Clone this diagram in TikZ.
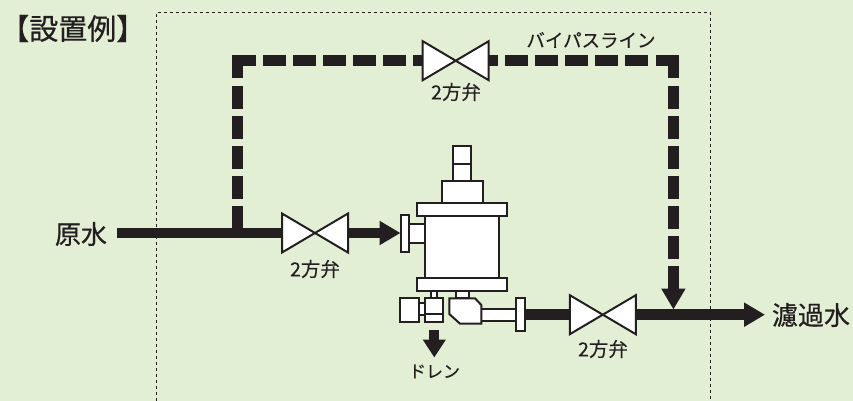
\documentclass[tikz,border=0pt]{standalone}
\usepackage{fontspec}
\usepackage{xcolor}
\usetikzlibrary{arrows.meta, calc}
\setmainfont{Noto Sans CJK JP}
\newfontfamily\heavyfont[FakeBold=0.6]{Noto Sans CJK JP}
\newfontfamily\midfont[FakeBold=0.2]{Noto Sans CJK JP}
\definecolor{ink}{HTML}{231F20}
\definecolor{bgreen}{HTML}{E2EFD5}

\tikzset{
    pipe/.style={ink, line width=10.5pt},
    bypass/.style={ink, line width=11pt, dash pattern=on 22.6pt off 7.4pt},
    part/.style={draw=ink, fill=white, line width=2pt, line join=miter},
    flow/.style={pipe, -{Triangle[length=21pt,width=23pt]}},
    small/.style={ink, inner sep=0pt, font=\midfont\fontsize{19.5}{20}\selectfont},
    big/.style={ink, inner sep=0pt, font=\heavyfont\fontsize{26}{26}\selectfont},
    valve/.pic={
        \draw[part] (-33,-19.5) -- (33,19.5) -- (33,-19.5) -- (-33,19.5) -- cycle;
        \coordinate (-l) at (-33,0);
        \coordinate (-r) at (33,0);
    }
}

\begin{document}
\begin{tikzpicture}[x=1pt, y=-1pt]
    \useasboundingbox (0,0) rectangle (853,401);
    \fill[bgreen] (0,0) rectangle (853,401);

    % Frame, open at the bottom
    \draw[ink, line width=1pt, dash pattern=on 3pt off 3pt] (156,401) -- (156,12.7) -- (710.7,12.7) -- (710.7,401);

    % Valves
    \pic (vby) at (455.7,60.7) {valve};
    \pic (vin) at (315,233) {valve};
    \pic (vout) at (602.8,314.7) {valve};

    % Pipe points
    \coordinate (inlet) at (117,233);
    \coordinate (tee) at (237.8,233);
    \coordinate (feed) at (400.5,233);
    \coordinate (corner1) at (237.8,60.7);
    \coordinate (corner2) at (673.4,60.7);
    \coordinate (merge) at (673.4,309.5);
    \coordinate (drainA) at (434.3,330);
    \coordinate (drainB) at (434.3,357.5);
    \coordinate (outA) at (525,314.7);
    \coordinate (outB) at (765,314.7);

    % Main line
    \draw[pipe] (inlet) -- (vin-l);
    \draw[flow] (vin-r) -- (feed);
    \draw[pipe] (outA) -- (vout-l);
    \draw[flow] (vout-r) -- (outB);

    % Bypass line
    \draw[pipe, line width=11pt] ($(corner1)+(0,17.4)$) -- (corner1) -- ($(corner1)+(17.9,0)$);
    \draw[bypass] ($(corner1)+(25.5,0)$) -- (vby-l);
    \draw[bypass] ($(corner1)+(0,25.3)$) -- (tee);
    \draw[pipe, line width=11pt] (vby-r) -- ++(9,0);
    \draw[bypass] ($(vby-r)+(16.6,0)$) -- ($(corner2)+(-24.8,0)$);
    \draw[pipe, line width=11pt] ($(corner2)+(-17.4,0)$) -- (corner2) -- ($(corner2)+(0,17.4)$);
    \draw[bypass] ($(corner2)+(0,25.3)$) -- ($(merge)+(0,-21)$);
    \draw[flow, line width=10.5pt] ($(merge)+(0,-24)$) -- (merge);

    % Drain arrow
    \draw[flow, line width=10pt, -{Triangle[length=18pt,width=22pt]}] (drainA) -- (drainB);

    % Filter housing
    \draw[part] (453.3,146) rectangle (470.7,164);
    \draw[part] (453.3,164) rectangle (470.7,181);
    \draw[part] (441.7,181) rectangle (482.7,203);
    \draw[part] (425,216) rectangle (499,277.7);
    \draw[part] (416.7,203) rectangle (507.3,216);
    \draw[part] (416.7,277.7) rectangle (507.3,291);

    % Inlet flange
    \draw[part] (408.7,224) rectangle (425,242.7);
    \draw[part] (400.7,214.7) rectangle (408.7,251.7);

    % Drain valve
    \draw[part] (430.7,291) rectangle (437.3,298.3);
    \draw[part] (418.7,303) rectangle (425,315);
    \draw[part] (400,298.3) rectangle (418.7,321.7);
    \draw[part] (425,298.3) rectangle (443,321.7);
    \draw[ink, line width=2pt] (425,314) -- (443,314);

    % Outlet elbow and flange
    \draw[part] (455.7,291) rectangle (469,298.3);
    \draw[part] (481.3,309) rectangle (516,320.7);
    \draw[part] (449.3,298.3) -- (475,298.3) -- (481.3,305) -- (481.3,323.7) -- (460,323.7) -- (449.3,314) -- cycle;
    \draw[part] (516,298.3) rectangle (525,331.3);

    % Labels
    \node[ink, inner sep=0pt, font=\heavyfont\fontsize{29}{29}\selectfont] (title) at (72.8,28.5) {【設置例】};
    \node[big] (raw) at (81,234) {原水};
    \node[big] (filtered) at (811,315) {濾過水};
    \node[small, font=\midfont\fontsize{18.5}{19}\selectfont] (lby) at (591,40) {バイパスライン};
    \node[small] (l2by) at (456,92) {2方弁};
    \node[small] (l2in) at (315,269) {2方弁};
    \node[small] (l2out) at (603,349) {2方弁};
    \node[small, font=\midfont\fontsize{17}{17}\selectfont] (ldrain) at (434.5,371.5) {ドレン};
\end{tikzpicture}
\end{document}
